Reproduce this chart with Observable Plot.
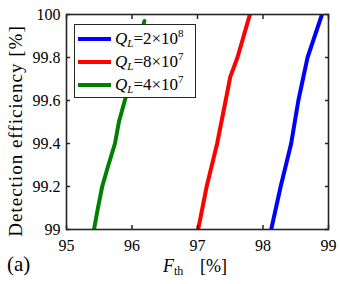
<!DOCTYPE html>
<html><head><meta charset="utf-8">
<script src="https://cdn.jsdelivr.net/npm/d3@7"></script>
<script src="https://cdn.jsdelivr.net/npm/@observablehq/plot@0.6"></script>
<style>
body{margin:0;background:#fff;}
#wrap{position:relative;width:340px;height:284px;font-family:"Liberation Serif",serif;}
#legend{position:absolute;left:74px;top:24px;width:120px;height:72px;border:1.5px solid #262626;background:#fff;box-sizing:content-box;}
.row{position:absolute;left:3px;height:20px;line-height:20px;font-size:17px;color:#000;white-space:nowrap;}
.sw{display:inline-block;width:33px;height:4px;margin-right:4px;vertical-align:middle;position:relative;top:-1px;}
.row i{font-style:italic;}
.row sub{font-size:11px;position:relative;top:3px;vertical-align:baseline;font-style:italic;}
.row sup{font-size:11px;position:relative;top:-7px;vertical-align:baseline;}
</style></head>
<body><div id="wrap"></div>
<script>
const xTicks = [95, 96, 97, 98, 99];
const yTicks = [99, 99.2, 99.4, 99.6, 99.8, 100];

const greenEff = [99.0, 99.1, 99.2, 99.3, 99.4, 99.5, 99.6, 99.7, 99.8, 99.9, 99.97];
const greenFth = [95.42, 95.48, 95.545, 95.64, 95.74, 95.80, 95.89, 95.99, 96.06, 96.13, 96.19];
const redEff = [99.0, 99.2, 99.4, 99.6, 99.71, 99.8, 100];
const redFth = [97.01, 97.14, 97.30, 97.43, 97.50, 97.61, 97.80];
const blueEff = [99.0, 99.2, 99.4, 99.6, 99.8, 100];
const blueFth = [98.125, 98.27, 98.43, 98.54, 98.68, 98.90];

const seriesNames = ["2×10^8", "8×10^7", "4×10^7"];
const seriesColors = ["#0000ff", "#ff0000", "#008000"];

const mk = (fth, eff, s) => fth.map((f, i) => ({fth: f, eff: eff[i], s}));
const data = [
  ...mk(blueFth, blueEff, 0),
  ...mk(redFth, redEff, 1),
  ...mk(greenFth, greenEff, 2)
];

const ink = "#262626";
const plot = Plot.plot({
  width: 340, height: 284,
  marginLeft: 66, marginRight: 12, marginTop: 14, marginBottom: 55,
  style: {fontFamily: "Liberation Serif, serif", fontSize: "16px", color: ink, background: "#fff", overflow: "visible"},
  x: {domain: [95, 99]},
  y: {domain: [99, 100]},
  marks: [
    Plot.line(data, {x: "fth", y: "eff", z: "s", stroke: d => seriesColors[d.s], strokeWidth: 4, clip: true}),
    Plot.axisX({anchor: "bottom", ticks: xTicks, tickSize: 0, tickPadding: 10, tickFormat: d => d, fill: "#000", label: null}),
    Plot.axisY({anchor: "left", ticks: yTicks, tickSize: 0, tickPadding: 6, tickFormat: d => d, fill: "#000", label: null}),
    Plot.axisX({anchor: "bottom", ticks: xTicks, tickSize: -4, tickFormat: () => "", label: null, stroke: ink, strokeWidth: 1.5}),
    Plot.axisX({anchor: "top", ticks: xTicks, tickSize: -4, tickFormat: () => "", label: null, stroke: ink, strokeWidth: 1.5}),
    Plot.axisY({anchor: "left", ticks: yTicks, tickSize: -4, tickFormat: () => "", label: null, stroke: ink, strokeWidth: 1.5}),
    Plot.axisY({anchor: "right", ticks: yTicks, tickSize: -4, tickFormat: () => "", label: null, stroke: ink, strokeWidth: 1.5}),
    Plot.frame({stroke: ink, strokeWidth: 1.6}),
    Plot.text(["Detection efficiency [%]"], {frameAnchor: "left", textAnchor: "middle", rotate: -90, dx: -51, dy: 9, fontSize: 19, fill: "#000", className: "ylab"})
  ]
});
document.getElementById("wrap").appendChild(plot);

const svg = d3.select(plot);
svg.selectAll(".ylab text").style("letter-spacing", "1px");
const xl = svg.append("text").attr("x", 163).attr("y", 272).attr("text-anchor", "start")
  .attr("font-size", 18).attr("fill", "#000");
xl.append("tspan").attr("font-style", "italic").text("F");
xl.append("tspan").attr("font-size", 12).attr("dy", 3).text("th");
xl.append("tspan").attr("dy", -3).attr("x", 200).text("[%]");
svg.append("text").attr("x", 7).attr("y", 271).attr("text-anchor", "start").attr("font-size", 21).attr("fill", "#000").text("(a)");

const leg = document.createElement("div");
leg.id = "legend";
seriesNames.forEach((n, i) => {
  const [m, e] = n.split("^");
  const r = document.createElement("div");
  r.className = "row";
  r.style.top = (4 + i * 23) + "px";
  r.innerHTML = `<span class="sw" style="background:${seriesColors[i]}"></span><i>Q</i><sub>L</sub>=${m}<sup>${e}</sup>`;
  leg.appendChild(r);
});
document.getElementById("wrap").appendChild(leg);
</script>
</body></html>
